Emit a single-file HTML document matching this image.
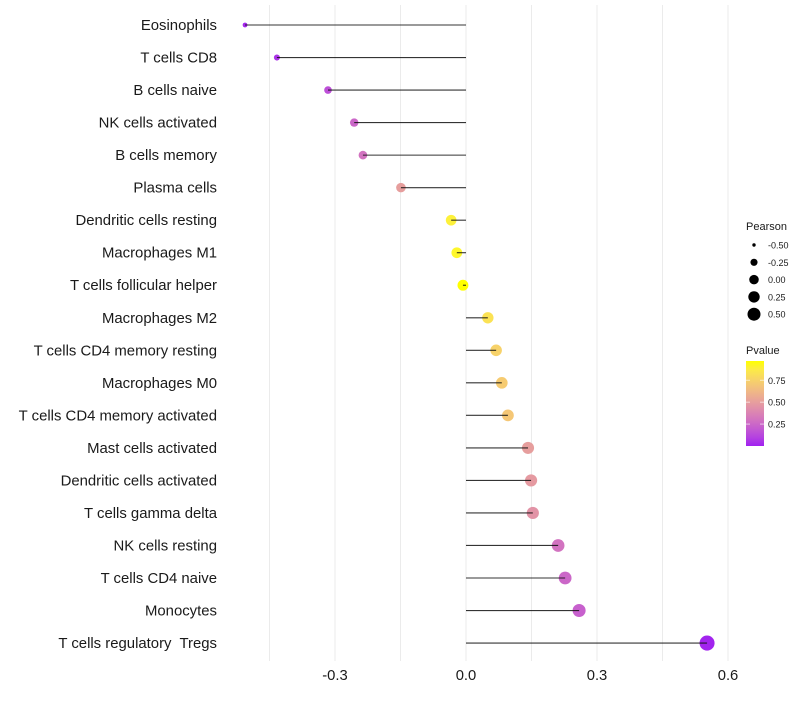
<!DOCTYPE html>
<html><head><meta charset="utf-8"><style>
body{margin:0;background:#fff;font-family:"Liberation Sans",sans-serif;}
svg text{font-family:"Liberation Sans",sans-serif;white-space:pre;}
</style></head><body>
<svg id="chart" width="800" height="700" xmlns="http://www.w3.org/2000/svg">
<g id="grid"></g>
<g id="marks"></g>
<g id="stems"></g>
<g id="ylab"></g>
<g id="xlab"></g>
<g id="legend"></g>
</svg>
<script>
const categories=["Eosinophils","T cells CD8","B cells naive","NK cells activated","B cells memory","Plasma cells","Dendritic cells resting","Macrophages M1","T cells follicular helper","Macrophages M2","T cells CD4 memory resting","Macrophages M0","T cells CD4 memory activated","Mast cells activated","Dendritic cells activated","T cells gamma delta","NK cells resting","T cells CD4 naive","Monocytes","T cells regulatory  Tregs"];
const pearson=[-0.506,-0.433,-0.316,-0.256,-0.236,-0.149,-0.034,-0.021,-0.007,0.050,0.069,0.082,0.096,0.142,0.149,0.153,0.211,0.227,0.259,0.552];
const pvalues=[0.02,0.05,0.15,0.25,0.30,0.50,0.90,0.93,0.97,0.83,0.75,0.72,0.70,0.50,0.48,0.45,0.30,0.25,0.22,0.01];
const xTicks=[-0.3,0.0,0.3,0.6];
const xTickLabels=["-0.3","0.0","0.3","0.6"];
const xMinor=[-0.45,-0.15,0.15,0.45];
const sizeLegend=[-0.5,-0.25,0,0.25,0.5];
const sizeLegendLabels=["-0.50","-0.25","0.00","0.25","0.50"];
const pTicks=[0.25,0.5,0.75];
const pTickLabels=["0.25","0.50","0.75"];

const NS="http://www.w3.org/2000/svg";
const x=v=>466+v*436.7;
const y=i=>25+i*32.53;
const rad=p=>Math.sqrt(Math.max(1,22.57+39.36*p));
const radP=p=>Math.sqrt(Math.max(3,30+48*p));
function lab(c){let [r,g,b]=c.map(v=>{v/=255;return v<=0.04045?v/12.92:Math.pow((v+0.055)/1.055,2.4)});
let X=(r*0.4124+g*0.3576+b*0.1805)/0.95047,Y=r*0.2126+g*0.7152+b*0.0722,Z=(r*0.0193+g*0.1192+b*0.9505)/1.08883;
const f=t=>t>0.008856?Math.cbrt(t):7.787*t+16/116;return [116*f(Y)-16,500*(f(X)-f(Y)),200*(f(Y)-f(Z))];}
function rgb(L){let fy=(L[0]+16)/116,fx=fy+L[1]/500,fz=fy-L[2]/200;const fi=t=>t**3>0.008856?t**3:(t-16/116)/7.787;
let X=fi(fx)*0.95047,Y=fi(fy),Z=fi(fz)*1.08883;let r=3.2406*X-1.5372*Y-0.4986*Z,g=-0.9689*X+1.8758*Y+0.0415*Z,b=0.0557*X-0.2040*Y+1.0570*Z;
return "rgb("+[r,g,b].map(v=>{v=v<=0.0031308?12.92*v:1.055*Math.pow(v,1/2.4)-0.055;return Math.round(Math.min(1,Math.max(0,v))*255)}).join(",")+")";}
const lo=lab([160,32,240]),hi=lab([255,255,0]);
const col=p=>{let t=Math.min(1,Math.max(0,p/0.97));return rgb(lo.map((v,i)=>v+(hi[i]-v)*t));};
function el(tag,attrs,parent,text){const e=document.createElementNS(NS,tag);for(const k in attrs)e.setAttribute(k,attrs[k]);if(text!==undefined)e.textContent=text;parent.appendChild(e);return e;}

const grid=document.getElementById('grid');
xMinor.concat(xTicks).forEach(v=>{const l=el('line',{x1:x(v),x2:x(v),y1:5,y2:661,stroke:'#ebebeb','stroke-width':1},grid);

});
const marks=document.getElementById('marks');
const stems=document.getElementById('stems');
const ylab=document.getElementById('ylab');
categories.forEach((c,i)=>{
const d=el('circle',{cx:x(pearson[i]),cy:y(i),r:radP(pearson[i]),fill:col(pvalues[i])},marks);


const s=el('line',{x1:x(0),x2:x(pearson[i]),y1:y(i),y2:y(i),stroke:'#111','stroke-width':1.1,'stroke-opacity':0.85},stems);


const t=el('text',{x:217,y:y(i)+5,'text-anchor':'end','font-size':14.9,fill:'#1a1a1a'},ylab,c);


});
const xlab=document.getElementById('xlab');
xTicks.forEach((v,i)=>{const t=el('text',{x:x(v),y:680,'text-anchor':'middle','font-size':14.8,fill:'#1a1a1a'},xlab,xTickLabels[i]);

});
const lg=document.getElementById('legend');
const lt=el('text',{x:746,y:230,'font-size':11,fill:'#1a1a1a'},lg,'Pearson');


sizeLegend.forEach((v,i)=>{const cy=245+i*17.3;
const c=el('circle',{cx:754,cy:cy,r:rad(v),fill:'#000'},lg);


const t=el('text',{x:768,y:cy+3.5,'font-size':9,fill:'#1a1a1a'},lg,sizeLegendLabels[i]);

});
const pt=el('text',{x:746,y:354,'font-size':11,fill:'#1a1a1a'},lg,'Pvalue');


const defs=el('defs',{},lg);const gr=el('linearGradient',{id:'pg',x1:0,y1:1,x2:0,y2:0},defs);
for(let k=0;k<=10;k++)el('stop',{offset:k/10,'stop-color':col(0.97*k/10)},gr);
const bar=el('rect',{x:746,y:361,width:18,height:85,fill:'url(#pg)'},lg);


pTicks.forEach((v,i)=>{const cy=446-v/0.97*85;
el('line',{x1:746,x2:750,y1:cy,y2:cy,stroke:'#fff','stroke-opacity':0.6},lg);
el('line',{x1:760,x2:764,y1:cy,y2:cy,stroke:'#fff','stroke-opacity':0.6},lg);
const t=el('text',{x:768,y:cy+3.5,'font-size':9,fill:'#1a1a1a'},lg,pTickLabels[i]);

});
</script>
</body></html>
